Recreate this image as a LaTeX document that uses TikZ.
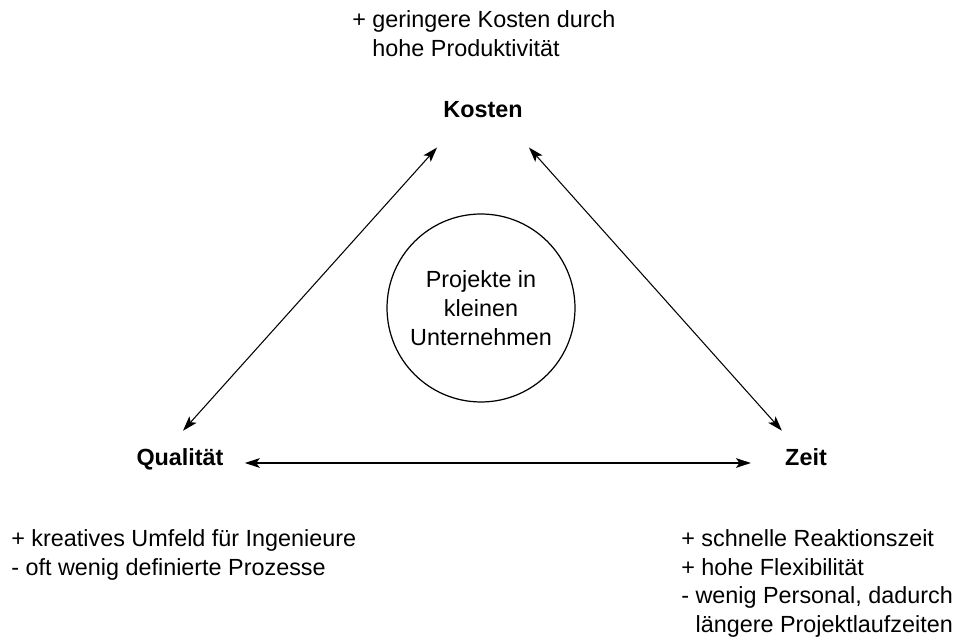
\documentclass[tikz,border=0pt]{standalone}
\usepackage{fontspec}
\setmainfont{Liberation Sans}
\usepackage{tikz}
\usetikzlibrary{arrows.meta, positioning, calc}
\tikzset{
    corner/.style = {inner sep=0pt, font=\fontsize{13.3}{16.4}\selectfont\bfseries},
    side_note/.style = {inner sep=0pt, anchor=north west, align=left,
        font=\fontsize{13.3}{16.4}\selectfont},
    hub/.style = {circle, draw=black, line width=0.7pt, minimum size=3.76cm,
        inner sep=0pt, align=center, font=\fontsize{13.3}{16.4}\selectfont},
    link/.style = {<->, line width=0.6pt},
}

\begin{document}
\begin{tikzpicture}[x=0.02cm, y=-0.02cm, >={Stealth[length=8.5pt,width=5.5pt,inset=2pt]}]
        \useasboundingbox (0,0) rectangle (960,644);
        % triangle corners and centre
        \node [hub] (projekt) at (481,308) {Projekte in\\kleinen\\Unternehmen};
        \node [corner] (kosten) at (483,110) {Kosten};
        \node [corner, anchor=base] (qualitaet) at (180,466) {Qualität};
        \node [corner, anchor=base] (zeit) at (806,466) {Zeit};
        % notes
        \node [side_note] (note_kosten) at (352,10) {+ geringere Kosten durch\\\hphantom{+ }hohe Produktivität};
        \node [side_note] (note_qualitaet) at (11,529) {+ kreatives Umfeld für Ingenieure\\- oft wenig definierte Prozesse};
        \node [side_note] (note_zeit) at (681,529) {+ schnelle Reaktionszeit\\+ hohe Flexibilität\\- wenig Personal, dadurch\\\hphantom{- }längere Projektlaufzeiten};
        % arrows
        \draw [link] ([shift={(-6,29)}]kosten.south west) -- ([shift={(3,-18)}]qualitaet.north);
        \draw [link] ([shift={(6,29)}]kosten.south east) -- ([shift={(-3,-18)}]zeit.north west);
        \draw [link] ([shift={(21,-3)}]qualitaet.base east) -- ([shift={(-34,-3)}]zeit.base west);
\end{tikzpicture}
\end{document}
